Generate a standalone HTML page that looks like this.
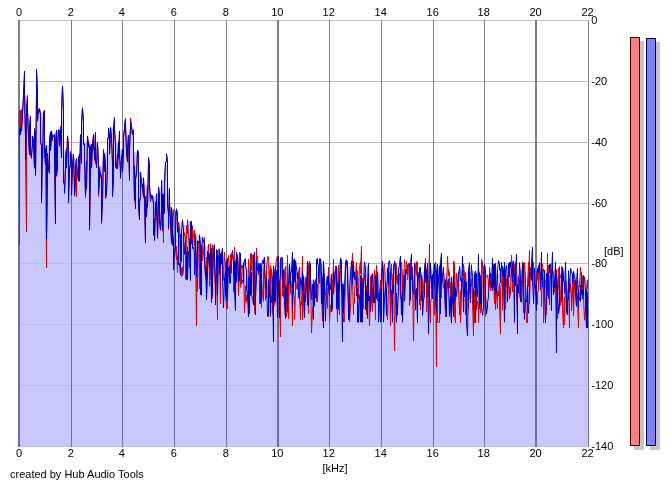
<!DOCTYPE html>
<html><head><meta charset="utf-8"><style>
html,body{margin:0;padding:0;background:#fff;width:670px;height:486px;overflow:hidden;position:relative}
</style></head><body>
<svg width="670" height="486" viewBox="0 0 670 486" style="position:absolute;left:0;top:0">
<defs><clipPath id="fc"><polygon points="18.0,447.0 18.0,110.0 19.5,110.0 19.5,110.0 20.5,110.0 20.5,110.0 21.5,109.0 21.5,109.0 22.5,109.0 22.5,109.0 23.5,95.5 24.5,71.0 24.5,95.4 25.5,95.4 25.5,95.4 26.5,95.4 26.5,95.4 27.5,95.4 27.5,110.5 28.5,115.9 29.5,115.9 29.5,115.9 30.5,115.9 30.5,135.9 31.5,135.9 31.5,135.9 32.5,135.9 32.5,135.9 33.5,135.9 34.5,135.9 34.5,128.2 35.5,128.2 35.5,128.2 36.5,95.8 36.5,68.9 37.5,93.9 37.5,108.0 38.5,108.0 39.5,108.0 39.5,108.0 40.5,113.3 40.5,113.3 41.5,113.3 41.5,113.3 42.5,113.3 42.5,113.3 43.5,113.3 44.5,110.0 44.5,145.3 45.5,145.3 45.5,145.3 46.5,145.3 46.5,145.3 47.5,145.3 47.5,145.3 48.5,145.3 49.5,145.3 49.5,138.9 50.5,131.8 50.5,131.8 51.5,131.4 51.5,130.8 52.5,134.4 52.5,134.4 53.5,134.4 54.5,134.4 54.5,134.4 55.5,134.4 55.5,134.4 56.5,130.2 56.5,130.2 57.5,130.2 57.5,130.2 58.5,129.6 59.5,129.6 59.5,129.6 60.5,129.6 60.5,126.2 61.5,126.2 61.5,108.7 62.5,86.0 63.5,110.5 63.5,149.4 64.5,149.4 64.5,149.4 65.5,149.4 65.5,149.4 66.5,149.4 66.5,149.4 67.5,135.7 68.5,146.7 68.5,151.4 69.5,151.4 69.5,151.4 70.5,151.4 70.5,151.4 71.5,154.2 71.5,154.2 72.5,154.2 73.5,154.2 73.5,155.0 74.5,158.6 74.5,158.6 75.5,158.6 75.5,158.6 76.5,158.6 76.5,158.6 77.5,158.6 78.5,158.6 78.5,156.8 79.5,154.0 79.5,154.0 80.5,134.9 80.5,134.7 81.5,134.7 81.5,122.4 82.5,107.6 83.5,121.0 83.5,143.5 84.5,143.5 84.5,143.5 85.5,143.5 85.5,143.5 86.5,143.5 86.5,143.5 87.5,135.9 88.5,141.0 88.5,141.0 89.5,144.2 89.5,144.2 90.5,144.2 90.5,144.2 91.5,144.2 91.5,144.2 92.5,144.2 93.5,134.5 93.5,134.5 94.5,134.5 94.5,134.5 95.5,132.3 95.5,142.4 96.5,142.4 96.5,142.4 97.5,142.4 98.5,164.3 98.5,166.6 99.5,166.6 99.5,166.6 100.5,166.6 100.5,166.6 101.5,166.6 101.5,166.6 102.5,166.6 103.5,148.9 103.5,151.5 104.5,151.5 104.5,151.5 105.5,151.5 105.5,151.5 106.5,151.5 107.5,151.5 107.5,138.9 108.5,136.2 108.5,128.0 109.5,128.0 109.5,128.0 110.5,128.0 110.5,127.4 111.5,127.4 112.5,127.4 112.5,127.4 113.5,127.4 113.5,127.4 114.5,117.0 114.5,128.3 115.5,142.3 115.5,142.3 116.5,142.3 117.5,142.3 117.5,142.3 118.5,142.3 118.5,142.3 119.5,130.9 119.5,149.2 120.5,149.2 120.5,149.2 121.5,149.2 122.5,149.2 122.5,149.2 123.5,149.2 123.5,137.6 124.5,128.1 124.5,125.5 125.5,118.6 125.5,124.5 126.5,135.1 127.5,135.1 127.5,135.1 128.5,135.1 128.5,135.1 129.5,135.1 129.5,135.1 130.5,126.1 130.5,117.8 131.5,125.8 132.5,129.7 132.5,129.7 133.5,129.7 133.5,151.7 134.5,151.7 134.5,151.7 135.5,151.7 135.5,151.7 136.5,151.7 137.5,151.7 137.5,150.0 138.5,152.5 138.5,172.0 139.5,172.0 139.5,172.0 140.5,172.0 140.5,172.0 141.5,177.7 142.5,177.7 142.5,177.7 143.5,177.7 143.5,177.7 144.5,184.8 144.5,184.8 145.5,184.8 145.5,184.8 146.5,184.8 147.5,184.8 147.5,184.8 148.5,163.2 148.5,157.0 149.5,164.4 149.5,184.1 150.5,194.6 151.5,194.6 151.5,194.6 152.5,195.7 152.5,195.7 153.5,195.7 153.5,195.7 154.5,195.7 154.5,195.7 155.5,195.7 156.5,195.7 156.5,193.7 157.5,193.7 157.5,193.7 158.5,193.7 158.5,187.1 159.5,187.1 159.5,187.1 160.5,187.1 161.5,187.1 161.5,180.5 162.5,180.5 162.5,180.5 163.5,180.5 163.5,180.5 164.5,180.5 164.5,180.5 165.5,162.3 166.5,160.1 166.5,153.7 167.5,161.3 167.5,188.6 168.5,188.6 168.5,188.6 169.5,188.6 169.5,202.1 170.5,207.5 171.5,207.5 171.5,207.5 172.5,209.6 172.5,209.6 172.5,209.6 173.5,209.6 173.5,209.6 174.5,209.6 175.5,209.6 175.5,209.6 176.5,209.6 176.5,208.8 177.5,213.0 177.5,222.2 178.5,222.2 178.5,222.2 179.5,222.2 180.5,222.2 180.5,222.2 181.5,222.2 181.5,222.2 182.5,219.7 182.5,220.9 183.5,225.0 183.5,225.0 184.5,225.0 185.5,225.0 185.5,225.0 186.5,225.0 186.5,225.0 187.5,225.0 187.5,219.7 188.5,220.9 189.5,220.9 189.5,220.9 190.5,220.9 190.5,220.9 191.5,220.9 191.5,225.6 192.5,225.6 192.5,230.0 193.5,230.0 194.5,230.0 194.5,233.9 195.5,233.9 195.5,233.9 196.5,234.9 196.5,234.9 197.5,234.9 197.5,234.9 198.5,234.9 199.5,234.9 199.5,234.9 200.5,237.4 200.5,237.4 201.5,237.4 201.5,237.4 202.5,237.4 202.5,237.4 203.5,237.6 204.5,237.6 204.5,246.2 205.5,246.2 205.5,246.2 206.5,246.2 206.5,246.2 207.5,246.2 207.5,246.2 208.5,244.0 209.5,244.0 209.5,244.0 210.5,244.0 210.5,243.7 211.5,244.5 211.5,244.5 212.5,244.5 212.5,244.5 213.5,244.5 214.5,244.5 214.5,249.6 215.5,258.9 215.5,258.4 216.5,256.2 216.5,253.7 217.5,254.9 217.5,259.0 218.5,260.2 219.5,261.6 219.5,260.9 220.5,261.6 220.5,259.9 221.5,258.9 221.5,259.7 222.5,262.2 222.5,260.5 223.5,259.6 224.5,262.7 224.5,258.3 225.5,258.6 225.5,258.3 226.5,259.0 226.5,258.3 227.5,258.8 227.5,259.8 228.5,261.5 229.5,262.0 229.5,264.0 230.5,264.8 230.5,264.0 231.5,264.0 231.5,264.2 232.5,265.0 233.5,267.4 233.5,269.8 234.5,268.2 234.5,267.7 235.5,266.6 235.5,265.6 236.5,264.5 236.5,263.8 237.5,263.9 238.5,260.4 238.5,257.7 239.5,254.6 239.5,255.9 240.5,258.0 240.5,259.9 241.5,259.9 241.5,261.6 242.5,264.3 243.5,259.7 243.5,262.6 244.5,262.2 244.5,260.5 245.5,259.0 245.5,262.8 246.5,264.6 246.5,267.2 247.5,267.9 248.5,267.5 248.5,264.8 249.5,261.6 249.5,261.5 250.5,262.0 250.5,264.1 251.5,263.1 251.5,261.2 252.5,258.5 253.5,258.2 253.5,253.8 254.5,258.1 254.5,257.3 255.5,258.7 255.5,261.5 256.5,266.8 256.5,267.2 257.5,265.2 258.5,265.1 258.5,263.1 259.5,263.1 259.5,263.1 260.5,263.1 260.5,263.1 261.5,263.1 261.5,263.1 262.5,260.3 263.5,260.3 263.5,260.3 264.5,257.3 264.5,258.6 265.5,260.4 265.5,260.6 266.5,262.9 266.5,262.9 267.5,261.7 268.5,259.7 268.5,262.5 269.5,264.9 269.5,264.9 270.5,264.9 270.5,265.9 271.5,265.9 272.5,266.7 272.5,272.3 273.5,269.7 273.5,270.6 274.5,268.9 274.5,265.9 275.5,265.8 275.5,265.3 276.5,264.3 277.5,261.8 277.5,262.5 278.5,260.1 278.5,260.7 279.5,261.9 279.5,265.6 280.5,264.8 280.5,266.4 281.5,263.6 282.5,266.5 282.5,266.4 283.5,268.3 283.5,267.1 284.5,268.4 284.5,268.1 285.5,266.6 285.5,266.2 286.5,266.2 287.5,266.6 287.5,264.3 288.5,264.5 288.5,266.2 289.5,268.6 289.5,265.7 290.5,267.8 290.5,267.0 291.5,264.5 292.5,260.7 292.5,261.4 293.5,262.1 293.5,261.3 294.5,264.3 294.5,266.1 295.5,271.6 295.5,269.7 296.5,273.5 297.5,273.2 297.5,270.4 298.5,267.1 298.5,267.1 299.5,267.1 299.5,267.1 300.5,267.1 300.5,267.1 301.5,267.1 302.5,266.7 302.5,272.0 303.5,276.5 303.5,276.5 304.5,276.5 304.5,276.5 305.5,276.5 305.5,276.5 306.5,276.5 307.5,269.7 307.5,270.2 308.5,272.6 308.5,270.5 309.5,263.9 309.5,263.6 310.5,266.5 310.5,279.5 311.5,279.8 312.5,279.8 312.5,279.8 313.5,279.8 313.5,279.8 314.5,279.8 314.5,279.8 315.5,279.1 316.5,279.1 316.5,273.8 317.5,271.1 317.5,273.1 318.5,272.2 318.5,271.7 319.5,271.1 319.5,269.8 320.5,269.4 321.5,263.7 321.5,262.2 322.5,261.3 322.5,263.5 323.5,261.6 323.5,265.3 324.5,276.4 324.5,276.4 325.5,276.4 326.5,276.4 326.5,276.4 327.5,276.4 327.5,276.4 328.5,270.6 328.5,268.7 329.5,273.7 329.5,273.7 330.5,273.7 331.5,273.7 331.5,273.7 332.5,273.7 332.5,273.7 333.5,271.3 333.5,273.6 334.5,274.3 334.5,274.1 335.5,271.5 336.5,273.0 336.5,271.0 337.5,268.7 337.5,268.3 338.5,270.3 338.5,269.4 339.5,272.3 339.5,273.4 340.5,270.1 341.5,270.7 341.5,281.3 342.5,281.3 342.5,281.3 343.5,281.3 343.5,281.3 344.5,281.3 344.5,281.3 345.5,265.0 346.5,265.8 346.5,264.2 347.5,264.6 347.5,265.6 348.5,265.9 348.5,266.3 349.5,267.5 349.5,266.4 350.5,267.2 351.5,266.3 351.5,266.9 352.5,264.8 352.5,265.7 353.5,265.5 353.5,265.6 354.5,264.0 354.5,266.6 355.5,266.2 356.5,269.4 356.5,270.8 357.5,272.2 357.5,274.7 358.5,279.3 358.5,277.9 359.5,278.1 360.5,276.8 360.5,273.9 361.5,267.4 361.5,265.8 362.5,265.5 362.5,264.5 363.5,261.8 363.5,266.9 364.5,265.7 365.5,265.3 365.5,265.6 366.5,266.4 366.5,263.2 367.5,266.3 367.5,266.8 368.5,270.5 368.5,273.5 369.5,273.5 370.5,273.5 370.5,273.5 371.5,273.5 371.5,273.5 372.5,273.5 372.5,273.5 373.5,273.5 373.5,273.5 374.5,270.2 375.5,270.2 375.5,270.2 376.5,271.8 376.5,270.5 377.5,272.2 377.5,272.5 378.5,272.5 378.5,272.5 379.5,272.5 380.5,272.5 380.5,272.5 381.5,272.8 381.5,272.9 382.5,273.9 382.5,272.7 383.5,271.1 383.5,274.1 384.5,271.4 385.5,272.0 385.5,269.8 386.5,269.1 386.5,267.8 387.5,268.1 387.5,267.8 388.5,267.8 388.5,267.0 389.5,266.3 390.5,268.9 390.5,273.3 391.5,273.9 391.5,273.7 392.5,275.8 392.5,274.4 393.5,271.1 393.5,273.0 394.5,271.6 395.5,270.6 395.5,271.5 396.5,272.2 396.5,269.5 397.5,269.4 397.5,270.1 398.5,266.9 398.5,265.4 399.5,267.2 400.5,266.7 400.5,269.5 401.5,269.7 401.5,272.3 402.5,269.8 402.5,270.7 403.5,268.7 404.5,270.7 404.5,270.6 405.5,272.0 405.5,272.9 406.5,271.3 406.5,268.1 407.5,269.0 407.5,268.8 408.5,268.1 409.5,269.8 409.5,273.1 410.5,275.5 410.5,276.5 411.5,279.2 411.5,277.6 412.5,276.6 412.5,274.2 413.5,275.4 414.5,272.3 414.5,272.4 415.5,272.6 415.5,273.6 416.5,271.3 416.5,272.5 417.5,273.6 417.5,273.6 418.5,270.1 419.5,272.7 419.5,270.8 420.5,273.0 420.5,271.9 421.5,271.9 421.5,271.9 422.5,271.9 422.5,271.9 423.5,271.9 424.5,271.9 424.5,271.3 425.5,268.9 425.5,267.5 426.5,267.0 426.5,269.1 427.5,269.7 427.5,270.4 428.5,270.5 429.5,271.3 429.5,268.9 430.5,268.7 430.5,268.8 431.5,268.6 431.5,270.0 432.5,270.2 432.5,269.8 433.5,270.5 434.5,271.0 434.5,268.6 435.5,268.5 435.5,270.4 436.5,269.0 436.5,267.9 437.5,269.1 437.5,268.9 438.5,269.2 439.5,270.1 439.5,273.2 440.5,275.2 440.5,277.0 441.5,275.8 441.5,276.8 442.5,275.8 443.5,276.5 443.5,272.7 444.5,272.7 444.5,273.0 445.5,272.7 445.5,272.7 446.5,273.7 446.5,272.7 447.5,269.0 448.5,269.3 448.5,269.3 449.5,272.9 449.5,276.8 450.5,276.8 450.5,276.8 451.5,276.8 451.5,276.8 452.5,276.8 453.5,276.8 453.5,270.1 454.5,269.1 454.5,272.4 455.5,272.4 455.5,272.4 456.5,272.4 456.5,272.4 457.5,273.4 458.5,272.4 458.5,272.4 459.5,267.2 459.5,266.3 460.5,266.3 460.5,266.3 461.5,269.8 461.5,269.8 462.5,269.8 463.5,268.0 463.5,265.3 464.5,272.4 464.5,272.4 465.5,272.4 465.5,272.4 466.5,272.4 466.5,272.4 467.5,272.4 468.5,272.4 468.5,272.0 469.5,268.9 469.5,270.9 470.5,272.2 470.5,272.6 471.5,271.9 471.5,270.8 472.5,271.1 473.5,271.1 473.5,271.1 474.5,271.1 474.5,271.1 475.5,271.1 475.5,271.1 476.5,271.3 476.5,272.2 477.5,273.9 478.5,270.6 478.5,270.2 479.5,270.5 479.5,269.6 480.5,270.3 480.5,272.3 481.5,272.6 481.5,271.6 482.5,270.5 483.5,268.3 483.5,268.0 484.5,266.8 484.5,267.7 485.5,270.1 485.5,274.8 486.5,274.8 487.5,274.8 487.5,274.8 488.5,274.8 488.5,274.8 489.5,274.8 489.5,273.0 490.5,272.1 490.5,270.3 491.5,267.5 492.5,271.4 492.5,275.1 493.5,273.6 493.5,275.9 494.5,279.2 494.5,275.2 495.5,273.1 495.5,275.4 496.5,275.3 497.5,274.6 497.5,271.5 498.5,272.9 498.5,274.6 499.5,271.7 499.5,269.9 500.5,271.3 500.5,269.8 501.5,266.3 502.5,271.3 502.5,271.5 503.5,275.4 503.5,274.7 504.5,276.0 504.5,272.6 505.5,272.5 505.5,270.4 506.5,274.1 507.5,273.8 507.5,274.9 508.5,275.8 508.5,276.1 509.5,274.7 509.5,275.4 510.5,274.2 510.5,273.1 511.5,271.6 512.5,270.3 512.5,269.8 513.5,268.8 513.5,270.9 514.5,272.1 514.5,274.9 515.5,274.4 515.5,277.5 516.5,277.1 517.5,277.0 517.5,274.5 518.5,275.0 518.5,273.4 519.5,271.7 519.5,270.6 520.5,268.0 520.5,269.1 521.5,270.8 522.5,271.1 522.5,269.9 523.5,274.1 523.5,274.0 524.5,272.2 524.5,271.9 525.5,276.0 525.5,276.3 526.5,276.2 527.5,279.4 527.5,280.4 528.5,278.6 528.5,280.4 529.5,280.2 529.5,281.1 530.5,277.0 531.5,274.3 531.5,272.0 532.5,271.4 532.5,265.5 533.5,268.2 533.5,269.2 534.5,269.3 534.5,268.2 535.5,268.2 536.5,268.2 536.5,268.2 537.5,268.2 537.5,269.1 538.5,269.1 538.5,271.5 539.5,276.4 539.5,275.6 540.5,270.0 541.5,270.1 541.5,265.6 542.5,264.5 542.5,265.0 543.5,269.2 543.5,269.2 544.5,270.0 544.5,269.3 545.5,270.4 546.5,269.2 546.5,274.1 547.5,275.8 547.5,277.4 548.5,279.2 548.5,279.6 549.5,277.3 549.5,275.0 550.5,275.3 551.5,271.6 551.5,271.9 552.5,269.0 552.5,270.4 553.5,269.9 553.5,273.7 554.5,275.2 554.5,271.8 555.5,270.3 556.5,270.4 556.5,267.9 557.5,268.7 557.5,270.8 558.5,272.4 558.5,271.4 559.5,271.1 559.5,269.6 560.5,273.7 561.5,275.1 561.5,278.9 562.5,277.5 562.5,277.1 563.5,275.3 563.5,272.7 564.5,269.3 564.5,271.3 565.5,275.8 566.5,276.3 566.5,279.7 567.5,278.6 567.5,281.0 568.5,281.1 568.5,280.8 569.5,277.6 569.5,280.9 570.5,275.1 571.5,272.1 571.5,271.3 572.5,272.4 572.5,271.4 573.5,272.9 573.5,271.3 574.5,274.3 575.5,272.0 575.5,271.3 576.5,274.5 576.5,275.7 577.5,275.3 577.5,277.3 578.5,277.8 578.5,277.9 579.5,282.9 580.5,280.1 580.5,276.9 581.5,278.8 581.5,278.2 582.5,275.0 582.5,275.0 583.5,275.0 583.5,276.4 584.5,276.8 585.5,279.7 585.5,279.7 586.5,279.7 586.5,279.7 587.5,279.7 587.5,279.7 589.0,279.7 589.0,447.0"/></clipPath></defs>
<g shape-rendering="crispEdges"><rect x="18" y="20" width="571" height="1" fill="#c0c0c0"/><rect x="18" y="81" width="571" height="1" fill="#c0c0c0"/><rect x="18" y="142" width="571" height="1" fill="#c0c0c0"/><rect x="18" y="203" width="571" height="1" fill="#c0c0c0"/><rect x="18" y="263" width="571" height="1" fill="#c0c0c0"/><rect x="18" y="324" width="571" height="1" fill="#c0c0c0"/><rect x="18" y="385" width="571" height="1" fill="#c0c0c0"/><rect x="18" y="446" width="571" height="1" fill="#c0c0c0"/><rect x="18" y="20" width="2" height="427" fill="#808080"/><rect x="71" y="20" width="1" height="427" fill="#808080"/><rect x="122" y="20" width="1" height="427" fill="#808080"/><rect x="174" y="20" width="1" height="427" fill="#808080"/><rect x="226" y="20" width="1" height="427" fill="#808080"/><rect x="277" y="20" width="2" height="427" fill="#808080"/><rect x="329" y="20" width="1" height="427" fill="#808080"/><rect x="381" y="20" width="1" height="427" fill="#808080"/><rect x="433" y="20" width="1" height="427" fill="#808080"/><rect x="484" y="20" width="1" height="427" fill="#808080"/><rect x="535" y="20" width="2" height="427" fill="#808080"/><rect x="588" y="20" width="1" height="427" fill="#808080"/></g>
<polygon points="18.0,447.0 18.0,110.0 19.5,110.0 19.5,110.0 20.5,110.0 20.5,110.0 21.5,109.0 21.5,109.0 22.5,109.0 22.5,109.0 23.5,95.5 24.5,71.0 24.5,95.4 25.5,95.4 25.5,95.4 26.5,95.4 26.5,95.4 27.5,95.4 27.5,110.5 28.5,115.9 29.5,115.9 29.5,115.9 30.5,115.9 30.5,135.9 31.5,135.9 31.5,135.9 32.5,135.9 32.5,135.9 33.5,135.9 34.5,135.9 34.5,128.2 35.5,128.2 35.5,128.2 36.5,95.8 36.5,68.9 37.5,93.9 37.5,108.0 38.5,108.0 39.5,108.0 39.5,108.0 40.5,113.3 40.5,113.3 41.5,113.3 41.5,113.3 42.5,113.3 42.5,113.3 43.5,113.3 44.5,110.0 44.5,145.3 45.5,145.3 45.5,145.3 46.5,145.3 46.5,145.3 47.5,145.3 47.5,145.3 48.5,145.3 49.5,145.3 49.5,138.9 50.5,131.8 50.5,131.8 51.5,131.4 51.5,130.8 52.5,134.4 52.5,134.4 53.5,134.4 54.5,134.4 54.5,134.4 55.5,134.4 55.5,134.4 56.5,130.2 56.5,130.2 57.5,130.2 57.5,130.2 58.5,129.6 59.5,129.6 59.5,129.6 60.5,129.6 60.5,126.2 61.5,126.2 61.5,108.7 62.5,86.0 63.5,110.5 63.5,149.4 64.5,149.4 64.5,149.4 65.5,149.4 65.5,149.4 66.5,149.4 66.5,149.4 67.5,135.7 68.5,146.7 68.5,151.4 69.5,151.4 69.5,151.4 70.5,151.4 70.5,151.4 71.5,154.2 71.5,154.2 72.5,154.2 73.5,154.2 73.5,155.0 74.5,158.6 74.5,158.6 75.5,158.6 75.5,158.6 76.5,158.6 76.5,158.6 77.5,158.6 78.5,158.6 78.5,156.8 79.5,154.0 79.5,154.0 80.5,134.9 80.5,134.7 81.5,134.7 81.5,122.4 82.5,107.6 83.5,121.0 83.5,143.5 84.5,143.5 84.5,143.5 85.5,143.5 85.5,143.5 86.5,143.5 86.5,143.5 87.5,135.9 88.5,141.0 88.5,141.0 89.5,144.2 89.5,144.2 90.5,144.2 90.5,144.2 91.5,144.2 91.5,144.2 92.5,144.2 93.5,134.5 93.5,134.5 94.5,134.5 94.5,134.5 95.5,132.3 95.5,142.4 96.5,142.4 96.5,142.4 97.5,142.4 98.5,164.3 98.5,166.6 99.5,166.6 99.5,166.6 100.5,166.6 100.5,166.6 101.5,166.6 101.5,166.6 102.5,166.6 103.5,148.9 103.5,151.5 104.5,151.5 104.5,151.5 105.5,151.5 105.5,151.5 106.5,151.5 107.5,151.5 107.5,138.9 108.5,136.2 108.5,128.0 109.5,128.0 109.5,128.0 110.5,128.0 110.5,127.4 111.5,127.4 112.5,127.4 112.5,127.4 113.5,127.4 113.5,127.4 114.5,117.0 114.5,128.3 115.5,142.3 115.5,142.3 116.5,142.3 117.5,142.3 117.5,142.3 118.5,142.3 118.5,142.3 119.5,130.9 119.5,149.2 120.5,149.2 120.5,149.2 121.5,149.2 122.5,149.2 122.5,149.2 123.5,149.2 123.5,137.6 124.5,128.1 124.5,125.5 125.5,118.6 125.5,124.5 126.5,135.1 127.5,135.1 127.5,135.1 128.5,135.1 128.5,135.1 129.5,135.1 129.5,135.1 130.5,126.1 130.5,117.8 131.5,125.8 132.5,129.7 132.5,129.7 133.5,129.7 133.5,151.7 134.5,151.7 134.5,151.7 135.5,151.7 135.5,151.7 136.5,151.7 137.5,151.7 137.5,150.0 138.5,152.5 138.5,172.0 139.5,172.0 139.5,172.0 140.5,172.0 140.5,172.0 141.5,177.7 142.5,177.7 142.5,177.7 143.5,177.7 143.5,177.7 144.5,184.8 144.5,184.8 145.5,184.8 145.5,184.8 146.5,184.8 147.5,184.8 147.5,184.8 148.5,163.2 148.5,157.0 149.5,164.4 149.5,184.1 150.5,194.6 151.5,194.6 151.5,194.6 152.5,195.7 152.5,195.7 153.5,195.7 153.5,195.7 154.5,195.7 154.5,195.7 155.5,195.7 156.5,195.7 156.5,193.7 157.5,193.7 157.5,193.7 158.5,193.7 158.5,187.1 159.5,187.1 159.5,187.1 160.5,187.1 161.5,187.1 161.5,180.5 162.5,180.5 162.5,180.5 163.5,180.5 163.5,180.5 164.5,180.5 164.5,180.5 165.5,162.3 166.5,160.1 166.5,153.7 167.5,161.3 167.5,188.6 168.5,188.6 168.5,188.6 169.5,188.6 169.5,202.1 170.5,207.5 171.5,207.5 171.5,207.5 172.5,209.6 172.5,209.6 172.5,209.6 173.5,209.6 173.5,209.6 174.5,209.6 175.5,209.6 175.5,209.6 176.5,209.6 176.5,208.8 177.5,213.0 177.5,222.2 178.5,222.2 178.5,222.2 179.5,222.2 180.5,222.2 180.5,222.2 181.5,222.2 181.5,222.2 182.5,219.7 182.5,220.9 183.5,225.0 183.5,225.0 184.5,225.0 185.5,225.0 185.5,225.0 186.5,225.0 186.5,225.0 187.5,225.0 187.5,219.7 188.5,220.9 189.5,220.9 189.5,220.9 190.5,220.9 190.5,220.9 191.5,220.9 191.5,225.6 192.5,225.6 192.5,230.0 193.5,230.0 194.5,230.0 194.5,233.9 195.5,233.9 195.5,233.9 196.5,234.9 196.5,234.9 197.5,234.9 197.5,234.9 198.5,234.9 199.5,234.9 199.5,234.9 200.5,237.4 200.5,237.4 201.5,237.4 201.5,237.4 202.5,237.4 202.5,237.4 203.5,237.6 204.5,237.6 204.5,246.2 205.5,246.2 205.5,246.2 206.5,246.2 206.5,246.2 207.5,246.2 207.5,246.2 208.5,244.0 209.5,244.0 209.5,244.0 210.5,244.0 210.5,243.7 211.5,244.5 211.5,244.5 212.5,244.5 212.5,244.5 213.5,244.5 214.5,244.5 214.5,249.6 215.5,258.9 215.5,258.4 216.5,256.2 216.5,253.7 217.5,254.9 217.5,259.0 218.5,260.2 219.5,261.6 219.5,260.9 220.5,261.6 220.5,259.9 221.5,258.9 221.5,259.7 222.5,262.2 222.5,260.5 223.5,259.6 224.5,262.7 224.5,258.3 225.5,258.6 225.5,258.3 226.5,259.0 226.5,258.3 227.5,258.8 227.5,259.8 228.5,261.5 229.5,262.0 229.5,264.0 230.5,264.8 230.5,264.0 231.5,264.0 231.5,264.2 232.5,265.0 233.5,267.4 233.5,269.8 234.5,268.2 234.5,267.7 235.5,266.6 235.5,265.6 236.5,264.5 236.5,263.8 237.5,263.9 238.5,260.4 238.5,257.7 239.5,254.6 239.5,255.9 240.5,258.0 240.5,259.9 241.5,259.9 241.5,261.6 242.5,264.3 243.5,259.7 243.5,262.6 244.5,262.2 244.5,260.5 245.5,259.0 245.5,262.8 246.5,264.6 246.5,267.2 247.5,267.9 248.5,267.5 248.5,264.8 249.5,261.6 249.5,261.5 250.5,262.0 250.5,264.1 251.5,263.1 251.5,261.2 252.5,258.5 253.5,258.2 253.5,253.8 254.5,258.1 254.5,257.3 255.5,258.7 255.5,261.5 256.5,266.8 256.5,267.2 257.5,265.2 258.5,265.1 258.5,263.1 259.5,263.1 259.5,263.1 260.5,263.1 260.5,263.1 261.5,263.1 261.5,263.1 262.5,260.3 263.5,260.3 263.5,260.3 264.5,257.3 264.5,258.6 265.5,260.4 265.5,260.6 266.5,262.9 266.5,262.9 267.5,261.7 268.5,259.7 268.5,262.5 269.5,264.9 269.5,264.9 270.5,264.9 270.5,265.9 271.5,265.9 272.5,266.7 272.5,272.3 273.5,269.7 273.5,270.6 274.5,268.9 274.5,265.9 275.5,265.8 275.5,265.3 276.5,264.3 277.5,261.8 277.5,262.5 278.5,260.1 278.5,260.7 279.5,261.9 279.5,265.6 280.5,264.8 280.5,266.4 281.5,263.6 282.5,266.5 282.5,266.4 283.5,268.3 283.5,267.1 284.5,268.4 284.5,268.1 285.5,266.6 285.5,266.2 286.5,266.2 287.5,266.6 287.5,264.3 288.5,264.5 288.5,266.2 289.5,268.6 289.5,265.7 290.5,267.8 290.5,267.0 291.5,264.5 292.5,260.7 292.5,261.4 293.5,262.1 293.5,261.3 294.5,264.3 294.5,266.1 295.5,271.6 295.5,269.7 296.5,273.5 297.5,273.2 297.5,270.4 298.5,267.1 298.5,267.1 299.5,267.1 299.5,267.1 300.5,267.1 300.5,267.1 301.5,267.1 302.5,266.7 302.5,272.0 303.5,276.5 303.5,276.5 304.5,276.5 304.5,276.5 305.5,276.5 305.5,276.5 306.5,276.5 307.5,269.7 307.5,270.2 308.5,272.6 308.5,270.5 309.5,263.9 309.5,263.6 310.5,266.5 310.5,279.5 311.5,279.8 312.5,279.8 312.5,279.8 313.5,279.8 313.5,279.8 314.5,279.8 314.5,279.8 315.5,279.1 316.5,279.1 316.5,273.8 317.5,271.1 317.5,273.1 318.5,272.2 318.5,271.7 319.5,271.1 319.5,269.8 320.5,269.4 321.5,263.7 321.5,262.2 322.5,261.3 322.5,263.5 323.5,261.6 323.5,265.3 324.5,276.4 324.5,276.4 325.5,276.4 326.5,276.4 326.5,276.4 327.5,276.4 327.5,276.4 328.5,270.6 328.5,268.7 329.5,273.7 329.5,273.7 330.5,273.7 331.5,273.7 331.5,273.7 332.5,273.7 332.5,273.7 333.5,271.3 333.5,273.6 334.5,274.3 334.5,274.1 335.5,271.5 336.5,273.0 336.5,271.0 337.5,268.7 337.5,268.3 338.5,270.3 338.5,269.4 339.5,272.3 339.5,273.4 340.5,270.1 341.5,270.7 341.5,281.3 342.5,281.3 342.5,281.3 343.5,281.3 343.5,281.3 344.5,281.3 344.5,281.3 345.5,265.0 346.5,265.8 346.5,264.2 347.5,264.6 347.5,265.6 348.5,265.9 348.5,266.3 349.5,267.5 349.5,266.4 350.5,267.2 351.5,266.3 351.5,266.9 352.5,264.8 352.5,265.7 353.5,265.5 353.5,265.6 354.5,264.0 354.5,266.6 355.5,266.2 356.5,269.4 356.5,270.8 357.5,272.2 357.5,274.7 358.5,279.3 358.5,277.9 359.5,278.1 360.5,276.8 360.5,273.9 361.5,267.4 361.5,265.8 362.5,265.5 362.5,264.5 363.5,261.8 363.5,266.9 364.5,265.7 365.5,265.3 365.5,265.6 366.5,266.4 366.5,263.2 367.5,266.3 367.5,266.8 368.5,270.5 368.5,273.5 369.5,273.5 370.5,273.5 370.5,273.5 371.5,273.5 371.5,273.5 372.5,273.5 372.5,273.5 373.5,273.5 373.5,273.5 374.5,270.2 375.5,270.2 375.5,270.2 376.5,271.8 376.5,270.5 377.5,272.2 377.5,272.5 378.5,272.5 378.5,272.5 379.5,272.5 380.5,272.5 380.5,272.5 381.5,272.8 381.5,272.9 382.5,273.9 382.5,272.7 383.5,271.1 383.5,274.1 384.5,271.4 385.5,272.0 385.5,269.8 386.5,269.1 386.5,267.8 387.5,268.1 387.5,267.8 388.5,267.8 388.5,267.0 389.5,266.3 390.5,268.9 390.5,273.3 391.5,273.9 391.5,273.7 392.5,275.8 392.5,274.4 393.5,271.1 393.5,273.0 394.5,271.6 395.5,270.6 395.5,271.5 396.5,272.2 396.5,269.5 397.5,269.4 397.5,270.1 398.5,266.9 398.5,265.4 399.5,267.2 400.5,266.7 400.5,269.5 401.5,269.7 401.5,272.3 402.5,269.8 402.5,270.7 403.5,268.7 404.5,270.7 404.5,270.6 405.5,272.0 405.5,272.9 406.5,271.3 406.5,268.1 407.5,269.0 407.5,268.8 408.5,268.1 409.5,269.8 409.5,273.1 410.5,275.5 410.5,276.5 411.5,279.2 411.5,277.6 412.5,276.6 412.5,274.2 413.5,275.4 414.5,272.3 414.5,272.4 415.5,272.6 415.5,273.6 416.5,271.3 416.5,272.5 417.5,273.6 417.5,273.6 418.5,270.1 419.5,272.7 419.5,270.8 420.5,273.0 420.5,271.9 421.5,271.9 421.5,271.9 422.5,271.9 422.5,271.9 423.5,271.9 424.5,271.9 424.5,271.3 425.5,268.9 425.5,267.5 426.5,267.0 426.5,269.1 427.5,269.7 427.5,270.4 428.5,270.5 429.5,271.3 429.5,268.9 430.5,268.7 430.5,268.8 431.5,268.6 431.5,270.0 432.5,270.2 432.5,269.8 433.5,270.5 434.5,271.0 434.5,268.6 435.5,268.5 435.5,270.4 436.5,269.0 436.5,267.9 437.5,269.1 437.5,268.9 438.5,269.2 439.5,270.1 439.5,273.2 440.5,275.2 440.5,277.0 441.5,275.8 441.5,276.8 442.5,275.8 443.5,276.5 443.5,272.7 444.5,272.7 444.5,273.0 445.5,272.7 445.5,272.7 446.5,273.7 446.5,272.7 447.5,269.0 448.5,269.3 448.5,269.3 449.5,272.9 449.5,276.8 450.5,276.8 450.5,276.8 451.5,276.8 451.5,276.8 452.5,276.8 453.5,276.8 453.5,270.1 454.5,269.1 454.5,272.4 455.5,272.4 455.5,272.4 456.5,272.4 456.5,272.4 457.5,273.4 458.5,272.4 458.5,272.4 459.5,267.2 459.5,266.3 460.5,266.3 460.5,266.3 461.5,269.8 461.5,269.8 462.5,269.8 463.5,268.0 463.5,265.3 464.5,272.4 464.5,272.4 465.5,272.4 465.5,272.4 466.5,272.4 466.5,272.4 467.5,272.4 468.5,272.4 468.5,272.0 469.5,268.9 469.5,270.9 470.5,272.2 470.5,272.6 471.5,271.9 471.5,270.8 472.5,271.1 473.5,271.1 473.5,271.1 474.5,271.1 474.5,271.1 475.5,271.1 475.5,271.1 476.5,271.3 476.5,272.2 477.5,273.9 478.5,270.6 478.5,270.2 479.5,270.5 479.5,269.6 480.5,270.3 480.5,272.3 481.5,272.6 481.5,271.6 482.5,270.5 483.5,268.3 483.5,268.0 484.5,266.8 484.5,267.7 485.5,270.1 485.5,274.8 486.5,274.8 487.5,274.8 487.5,274.8 488.5,274.8 488.5,274.8 489.5,274.8 489.5,273.0 490.5,272.1 490.5,270.3 491.5,267.5 492.5,271.4 492.5,275.1 493.5,273.6 493.5,275.9 494.5,279.2 494.5,275.2 495.5,273.1 495.5,275.4 496.5,275.3 497.5,274.6 497.5,271.5 498.5,272.9 498.5,274.6 499.5,271.7 499.5,269.9 500.5,271.3 500.5,269.8 501.5,266.3 502.5,271.3 502.5,271.5 503.5,275.4 503.5,274.7 504.5,276.0 504.5,272.6 505.5,272.5 505.5,270.4 506.5,274.1 507.5,273.8 507.5,274.9 508.5,275.8 508.5,276.1 509.5,274.7 509.5,275.4 510.5,274.2 510.5,273.1 511.5,271.6 512.5,270.3 512.5,269.8 513.5,268.8 513.5,270.9 514.5,272.1 514.5,274.9 515.5,274.4 515.5,277.5 516.5,277.1 517.5,277.0 517.5,274.5 518.5,275.0 518.5,273.4 519.5,271.7 519.5,270.6 520.5,268.0 520.5,269.1 521.5,270.8 522.5,271.1 522.5,269.9 523.5,274.1 523.5,274.0 524.5,272.2 524.5,271.9 525.5,276.0 525.5,276.3 526.5,276.2 527.5,279.4 527.5,280.4 528.5,278.6 528.5,280.4 529.5,280.2 529.5,281.1 530.5,277.0 531.5,274.3 531.5,272.0 532.5,271.4 532.5,265.5 533.5,268.2 533.5,269.2 534.5,269.3 534.5,268.2 535.5,268.2 536.5,268.2 536.5,268.2 537.5,268.2 537.5,269.1 538.5,269.1 538.5,271.5 539.5,276.4 539.5,275.6 540.5,270.0 541.5,270.1 541.5,265.6 542.5,264.5 542.5,265.0 543.5,269.2 543.5,269.2 544.5,270.0 544.5,269.3 545.5,270.4 546.5,269.2 546.5,274.1 547.5,275.8 547.5,277.4 548.5,279.2 548.5,279.6 549.5,277.3 549.5,275.0 550.5,275.3 551.5,271.6 551.5,271.9 552.5,269.0 552.5,270.4 553.5,269.9 553.5,273.7 554.5,275.2 554.5,271.8 555.5,270.3 556.5,270.4 556.5,267.9 557.5,268.7 557.5,270.8 558.5,272.4 558.5,271.4 559.5,271.1 559.5,269.6 560.5,273.7 561.5,275.1 561.5,278.9 562.5,277.5 562.5,277.1 563.5,275.3 563.5,272.7 564.5,269.3 564.5,271.3 565.5,275.8 566.5,276.3 566.5,279.7 567.5,278.6 567.5,281.0 568.5,281.1 568.5,280.8 569.5,277.6 569.5,280.9 570.5,275.1 571.5,272.1 571.5,271.3 572.5,272.4 572.5,271.4 573.5,272.9 573.5,271.3 574.5,274.3 575.5,272.0 575.5,271.3 576.5,274.5 576.5,275.7 577.5,275.3 577.5,277.3 578.5,277.8 578.5,277.9 579.5,282.9 580.5,280.1 580.5,276.9 581.5,278.8 581.5,278.2 582.5,275.0 582.5,275.0 583.5,275.0 583.5,276.4 584.5,276.8 585.5,279.7 585.5,279.7 586.5,279.7 586.5,279.7 587.5,279.7 587.5,279.7 589.0,279.7 589.0,447.0" fill="#c8c8ff"/>
<g shape-rendering="crispEdges" clip-path="url(#fc)"><rect x="18" y="81" width="571" height="1" fill="#bcbcee"/><rect x="18" y="142" width="571" height="1" fill="#bcbcee"/><rect x="18" y="203" width="571" height="1" fill="#bcbcee"/><rect x="18" y="263" width="571" height="1" fill="#bcbcee"/><rect x="18" y="324" width="571" height="1" fill="#bcbcee"/><rect x="18" y="385" width="571" height="1" fill="#bcbcee"/><rect x="18" y="446" width="571" height="1" fill="#bcbcee"/><rect x="18" y="20" width="2" height="427" fill="#6c6ca4"/><rect x="71" y="20" width="1" height="427" fill="#6c6ca4"/><rect x="122" y="20" width="1" height="427" fill="#6c6ca4"/><rect x="174" y="20" width="1" height="427" fill="#6c6ca4"/><rect x="226" y="20" width="1" height="427" fill="#6c6ca4"/><rect x="277" y="20" width="2" height="427" fill="#6c6ca4"/><rect x="329" y="20" width="1" height="427" fill="#6c6ca4"/><rect x="381" y="20" width="1" height="427" fill="#6c6ca4"/><rect x="433" y="20" width="1" height="427" fill="#6c6ca4"/><rect x="484" y="20" width="1" height="427" fill="#6c6ca4"/><rect x="535" y="20" width="2" height="427" fill="#6c6ca4"/><rect x="588" y="20" width="1" height="427" fill="#6c6ca4"/></g>
<polyline points="19.5,245.0 19.5,112.0 20.5,110.0 20.5,130.0 21.5,109.0 21.5,125.0 22.5,117.7 22.5,112.6 23.5,96.6 24.5,73.5 24.5,95.9 25.5,136.1 25.5,158.2 26.5,232.0 26.5,110.0 27.5,95.4 27.5,110.5 28.5,136.2 29.5,153.8 29.5,128.7 30.5,115.9 30.5,153.4 31.5,158.1 31.5,154.7 32.5,144.5 32.5,137.2 33.5,138.9 34.5,167.9 34.5,128.2 35.5,133.4 35.5,173.4 36.5,95.8 36.5,68.9 37.5,93.9 37.5,119.5 38.5,109.0 39.5,110.1 39.5,108.0 40.5,114.7 40.5,140.9 41.5,146.4 41.5,203.1 42.5,143.9 42.5,161.0 43.5,113.3 44.5,110.0 44.5,154.1 45.5,162.1 45.5,149.9 46.5,268.0 46.5,240.4 47.5,173.6 47.5,154.5 48.5,168.8 49.5,172.9 49.5,138.9 50.5,134.0 50.5,150.9 51.5,135.1 51.5,131.7 52.5,141.1 52.5,136.6 53.5,135.9 54.5,134.4 54.5,156.0 55.5,223.0 55.5,143.9 56.5,130.2 56.5,176.4 57.5,166.6 57.5,147.8 58.5,129.9 59.5,130.8 59.5,144.9 60.5,139.0 60.5,126.2 61.5,156.1 61.5,108.7 62.5,87.5 63.5,110.5 63.5,181.1 64.5,183.7 64.5,193.6 65.5,166.6 65.5,157.0 66.5,150.3 66.5,166.5 67.5,135.7 68.5,146.7 68.5,202.4 69.5,166.0 69.5,169.4 70.5,164.3 70.5,151.4 71.5,154.7 71.5,194.9 72.5,166.1 73.5,154.6 73.5,155.0 74.5,188.2 74.5,195.0 75.5,181.9 75.5,166.1 76.5,197.0 76.5,164.7 77.5,175.9 78.5,181.1 78.5,156.8 79.5,156.6 79.5,181.6 80.5,134.9 80.5,136.0 81.5,163.3 81.5,122.4 82.5,107.6 83.5,121.0 83.5,144.4 84.5,145.1 84.5,159.5 85.5,195.7 85.5,197.8 86.5,160.7 86.5,189.4 87.5,135.9 88.5,145.6 88.5,141.0 89.5,148.3 89.5,230.2 90.5,167.9 90.5,147.9 91.5,145.3 91.5,167.7 92.5,146.8 93.5,135.2 93.5,147.5 94.5,154.3 94.5,160.9 95.5,132.5 95.5,161.9 96.5,164.6 96.5,167.1 97.5,143.6 98.5,165.2 98.5,196.5 99.5,179.0 99.5,166.6 100.5,177.9 100.5,174.9 101.5,175.2 101.5,224.1 102.5,201.3 103.5,148.9 103.5,151.5 104.5,170.8 104.5,155.9 105.5,163.9 105.5,198.0 106.5,192.9 107.5,163.6 107.5,138.9 108.5,136.5 108.5,129.6 109.5,137.9 109.5,152.9 110.5,131.8 110.5,127.6 111.5,137.8 112.5,162.0 112.5,194.2 113.5,177.7 113.5,129.3 114.5,117.0 114.5,129.7 115.5,146.8 115.5,162.8 116.5,167.9 117.5,153.6 117.5,169.0 118.5,142.3 118.5,157.8 119.5,130.9 119.5,156.8 120.5,173.2 120.5,177.7 121.5,158.1 122.5,153.3 122.5,170.3 123.5,150.0 123.5,137.7 124.5,128.9 124.5,127.1 125.5,119.2 125.5,124.5 126.5,151.2 127.5,162.2 127.5,152.1 128.5,135.1 128.5,137.7 129.5,178.8 129.5,150.9 130.5,126.1 130.5,117.8 131.5,125.8 132.5,134.5 132.5,132.6 133.5,129.7 133.5,153.6 134.5,201.2 134.5,165.8 135.5,208.4 135.5,180.0 136.5,175.9 137.5,153.0 137.5,150.5 138.5,154.2 138.5,203.6 139.5,219.5 139.5,201.1 140.5,197.0 140.5,172.0 141.5,187.1 142.5,184.1 142.5,189.9 143.5,197.7 143.5,177.7 144.5,201.7 144.5,196.4 145.5,243.1 145.5,197.6 146.5,213.2 147.5,184.8 147.5,207.5 148.5,163.2 148.5,157.0 149.5,164.4 149.5,184.1 150.5,201.8 151.5,195.7 151.5,194.6 152.5,197.2 152.5,195.7 153.5,205.0 153.5,235.5 154.5,219.8 154.5,240.2 155.5,201.3 156.5,220.0 156.5,194.6 157.5,237.4 157.5,237.1 158.5,199.3 158.5,187.3 159.5,196.1 159.5,219.9 160.5,229.9 161.5,210.8 161.5,181.0 162.5,231.4 162.5,195.1 163.5,242.6 163.5,214.8 164.5,213.1 164.5,182.3 165.5,163.0 166.5,160.1 166.5,154.5 167.5,163.0 167.5,203.1 168.5,211.8 168.5,229.6 169.5,188.6 169.5,203.1 170.5,218.3 171.5,244.0 171.5,208.6 172.5,220.5 172.5,227.7 172.5,234.3 173.5,210.3 173.5,209.6 174.5,210.8 175.5,211.9 175.5,250.2 176.5,259.6 176.5,246.4 177.5,272.4 177.5,255.6 178.5,251.7 178.5,222.2 179.5,228.2 180.5,267.5 180.5,270.4 181.5,268.0 181.5,276.4 182.5,266.7 182.5,275.7 183.5,271.7 183.5,239.8 184.5,232.7 185.5,236.8 185.5,279.1 186.5,230.8 186.5,225.0 187.5,234.1 187.5,219.7 188.5,233.7 189.5,254.7 189.5,267.9 190.5,227.8 190.5,222.1 191.5,224.8 191.5,229.3 192.5,225.6 192.5,245.8 193.5,233.6 194.5,230.0 194.5,245.7 195.5,241.3 195.5,249.2 196.5,326.0 196.5,263.0 197.5,247.4 197.5,291.6 198.5,241.2 199.5,243.4 199.5,288.8 200.5,251.3 200.5,252.1 201.5,251.4 201.5,244.9 202.5,247.7 202.5,260.6 203.5,252.9 204.5,237.6 204.5,246.2 205.5,279.4 205.5,272.5 206.5,299.1 206.5,257.3 207.5,265.3 207.5,276.6 208.5,244.0 209.5,271.1 209.5,286.4 210.5,270.5 210.5,243.7 211.5,273.4 211.5,260.1 212.5,298.5 212.5,244.9 213.5,250.3 214.5,274.1 214.5,264.1 215.5,299.0 215.5,294.6 216.5,265.6 216.5,257.7 217.5,319.5 217.5,254.9 218.5,249.5 219.5,248.8 219.5,259.0 220.5,304.0 220.5,254.0 221.5,252.3 221.5,262.8 222.5,259.6 222.5,252.1 223.5,280.4 224.5,252.0 224.5,260.0 225.5,262.0 225.5,283.5 226.5,308.6 226.5,281.1 227.5,308.9 227.5,263.0 228.5,255.3 229.5,273.4 229.5,283.7 230.5,253.9 230.5,272.6 231.5,272.9 231.5,264.3 232.5,254.9 233.5,260.4 233.5,292.1 234.5,247.0 234.5,257.9 235.5,260.7 235.5,259.9 236.5,272.7 236.5,261.4 237.5,258.1 238.5,295.9 238.5,274.5 239.5,252.0 239.5,279.6 240.5,287.4 240.5,263.9 241.5,266.8 241.5,268.2 242.5,265.1 243.5,283.1 243.5,262.4 244.5,312.8 244.5,312.9 245.5,285.8 245.5,300.5 246.5,302.3 246.5,295.0 247.5,300.3 248.5,268.9 248.5,259.1 249.5,282.2 249.5,299.2 250.5,274.3 250.5,253.3 251.5,271.0 251.5,253.5 252.5,255.1 253.5,295.3 253.5,255.3 254.5,262.0 254.5,311.4 255.5,314.8 255.5,286.9 256.5,248.0 256.5,262.7 257.5,256.0 258.5,275.0 258.5,263.1 259.5,265.9 259.5,304.0 260.5,291.6 260.5,271.8 261.5,307.5 261.5,279.5 262.5,294.4 263.5,301.6 263.5,270.5 264.5,264.0 264.5,270.6 265.5,300.2 265.5,285.2 266.5,298.0 266.5,267.7 267.5,256.7 268.5,256.6 268.5,257.7 269.5,291.6 269.5,274.2 270.5,264.9 270.5,316.7 271.5,268.9 272.5,279.7 272.5,312.3 273.5,317.0 273.5,310.5 274.5,285.2 274.5,305.5 275.5,264.8 275.5,269.4 276.5,258.2 277.5,255.9 277.5,280.2 278.5,276.2 278.5,296.5 279.5,291.5 279.5,298.5 280.5,337.0 280.5,289.8 281.5,257.0 282.5,259.1 282.5,295.8 283.5,290.1 283.5,297.3 284.5,290.4 284.5,272.2 285.5,266.2 285.5,271.7 286.5,316.8 287.5,255.0 287.5,285.2 288.5,285.9 288.5,319.0 289.5,264.7 289.5,278.0 290.5,293.4 290.5,280.2 291.5,284.5 292.5,326.0 292.5,260.3 293.5,268.8 293.5,291.7 294.5,301.3 294.5,319.4 295.5,292.9 295.5,276.5 296.5,288.5 297.5,289.4 297.5,282.1 298.5,279.7 298.5,272.9 299.5,267.1 299.5,290.7 300.5,319.7 300.5,300.9 301.5,305.3 302.5,256.0 302.5,319.9 303.5,297.1 303.5,276.5 304.5,287.4 304.5,315.3 305.5,292.5 305.5,277.3 306.5,284.0 307.5,288.6 307.5,289.3 308.5,313.3 308.5,264.4 309.5,261.1 309.5,289.4 310.5,280.2 310.5,279.5 311.5,333.0 312.5,308.6 312.5,307.6 313.5,306.8 313.5,279.8 314.5,289.3 314.5,298.8 315.5,279.1 316.5,302.0 316.5,296.5 317.5,284.5 317.5,302.1 318.5,277.1 318.5,277.3 319.5,283.6 319.5,261.4 320.5,258.8 321.5,267.2 321.5,286.3 322.5,321.0 322.5,291.3 323.5,321.1 323.5,269.0 324.5,289.2 324.5,286.9 325.5,295.0 326.5,294.5 326.5,296.9 327.5,308.4 327.5,295.3 328.5,269.6 328.5,267.0 329.5,318.2 329.5,321.5 330.5,305.0 331.5,311.0 331.5,273.7 332.5,283.7 332.5,295.5 333.5,259.0 333.5,293.9 334.5,284.1 334.5,278.7 335.5,270.4 336.5,296.3 336.5,281.0 337.5,321.7 337.5,285.7 338.5,265.0 338.5,270.8 339.5,314.9 339.5,279.2 340.5,259.0 341.5,285.1 341.5,283.0 342.5,291.7 342.5,290.5 343.5,322.1 343.5,316.2 344.5,322.1 344.5,322.1 345.5,273.1 346.5,261.8 346.5,263.1 347.5,269.4 347.5,269.6 348.5,303.8 348.5,311.8 349.5,298.9 349.5,322.1 350.5,306.3 351.5,284.7 351.5,271.3 352.5,253.0 352.5,280.0 353.5,314.5 353.5,302.5 354.5,303.3 354.5,296.4 355.5,275.7 356.5,262.4 356.5,283.5 357.5,285.6 357.5,270.6 358.5,298.5 358.5,294.9 359.5,266.5 360.5,261.8 360.5,274.0 361.5,246.0 361.5,282.8 362.5,277.9 362.5,279.7 363.5,308.8 363.5,285.6 364.5,277.3 365.5,271.9 365.5,291.7 366.5,285.5 366.5,314.9 367.5,301.1 367.5,297.0 368.5,276.3 368.5,286.3 369.5,326.0 370.5,289.0 370.5,277.1 371.5,275.3 371.5,299.7 372.5,311.5 372.5,288.0 373.5,285.6 373.5,291.4 374.5,270.2 375.5,320.0 375.5,296.6 376.5,282.5 376.5,264.9 377.5,281.5 377.5,300.9 378.5,293.2 378.5,322.1 379.5,293.0 380.5,280.3 380.5,313.1 381.5,322.1 381.5,268.8 382.5,262.1 382.5,263.0 383.5,298.1 383.5,272.4 384.5,263.8 385.5,287.2 385.5,290.0 386.5,298.8 386.5,294.1 387.5,320.0 387.5,318.0 388.5,288.3 388.5,270.7 389.5,273.7 390.5,326.0 390.5,280.5 391.5,277.1 391.5,264.3 392.5,295.7 392.5,278.4 393.5,272.5 393.5,264.6 394.5,351.0 395.5,280.6 395.5,262.7 396.5,264.6 396.5,280.8 397.5,284.6 397.5,275.0 398.5,284.4 398.5,272.3 399.5,273.6 400.5,298.7 400.5,293.0 401.5,262.8 401.5,262.2 402.5,277.2 402.5,291.6 403.5,282.4 404.5,261.9 404.5,259.7 405.5,279.7 405.5,275.8 406.5,268.6 406.5,260.9 407.5,270.4 407.5,279.6 408.5,263.4 409.5,282.0 409.5,305.5 410.5,289.0 410.5,277.9 411.5,279.8 411.5,269.0 412.5,266.7 412.5,278.1 413.5,341.0 414.5,263.9 414.5,262.4 415.5,264.4 415.5,271.5 416.5,275.3 416.5,262.0 417.5,261.8 417.5,280.0 418.5,275.1 419.5,304.7 419.5,282.2 420.5,309.7 420.5,301.7 421.5,278.1 421.5,274.9 422.5,278.9 422.5,314.5 423.5,285.4 424.5,278.4 424.5,280.0 425.5,258.0 425.5,263.3 426.5,275.3 426.5,311.8 427.5,288.5 427.5,279.8 428.5,296.9 429.5,244.0 429.5,299.5 430.5,322.8 430.5,303.2 431.5,297.4 431.5,277.1 432.5,283.0 432.5,290.4 433.5,299.6 434.5,315.2 434.5,305.8 435.5,277.7 435.5,262.1 436.5,367.0 436.5,304.9 437.5,322.9 437.5,282.0 438.5,274.8 439.5,289.5 439.5,322.9 440.5,297.6 440.5,288.7 441.5,297.7 441.5,269.7 442.5,275.1 443.5,288.2 443.5,284.2 444.5,284.3 444.5,284.5 445.5,316.9 445.5,307.0 446.5,278.6 446.5,288.6 447.5,256.0 448.5,275.5 448.5,269.3 449.5,272.9 449.5,287.6 450.5,282.5 450.5,300.1 451.5,276.8 451.5,302.8 452.5,283.8 453.5,282.5 453.5,261.0 454.5,262.8 454.5,314.6 455.5,323.0 455.5,293.1 456.5,273.4 456.5,276.3 457.5,284.5 458.5,272.4 458.5,289.9 459.5,311.5 459.5,315.1 460.5,290.5 460.5,322.9 461.5,296.4 461.5,287.4 462.5,285.3 463.5,276.7 463.5,264.0 464.5,274.0 464.5,281.7 465.5,315.0 465.5,272.4 466.5,300.4 466.5,290.0 467.5,291.5 468.5,309.4 468.5,276.0 469.5,262.5 469.5,279.9 470.5,290.4 470.5,285.7 471.5,286.2 471.5,279.0 472.5,300.0 473.5,336.0 473.5,300.1 474.5,322.6 474.5,290.1 475.5,295.2 475.5,273.4 476.5,277.3 476.5,309.9 477.5,301.0 478.5,307.8 478.5,322.5 479.5,287.1 479.5,298.1 480.5,293.2 480.5,312.8 481.5,274.0 481.5,259.4 482.5,263.1 483.5,303.2 483.5,265.9 484.5,280.7 484.5,279.7 485.5,316.5 485.5,275.5 486.5,277.1 487.5,275.7 487.5,274.8 488.5,281.4 488.5,288.2 489.5,280.4 489.5,267.2 490.5,279.6 490.5,290.5 491.5,289.9 492.5,289.8 492.5,278.0 493.5,281.2 493.5,267.9 494.5,303.5 494.5,278.4 495.5,309.6 495.5,285.7 496.5,294.7 497.5,308.6 497.5,291.5 498.5,295.9 498.5,292.4 499.5,283.3 499.5,306.6 500.5,334.0 500.5,290.4 501.5,283.1 502.5,274.6 502.5,310.3 503.5,278.6 503.5,279.8 504.5,286.3 504.5,277.8 505.5,291.0 505.5,309.2 506.5,278.7 507.5,292.0 507.5,301.3 508.5,274.7 508.5,285.5 509.5,286.6 509.5,299.2 510.5,291.8 510.5,293.4 511.5,255.0 512.5,291.9 512.5,275.5 513.5,261.4 513.5,262.5 514.5,265.5 514.5,281.4 515.5,262.5 515.5,266.2 516.5,293.6 517.5,317.2 517.5,298.7 518.5,275.9 518.5,277.5 519.5,279.6 519.5,295.6 520.5,299.1 520.5,301.8 521.5,284.8 522.5,261.8 522.5,270.5 523.5,312.6 523.5,295.2 524.5,263.7 524.5,262.6 525.5,277.9 525.5,292.2 526.5,322.7 527.5,322.7 527.5,284.5 528.5,262.3 528.5,286.7 529.5,250.0 529.5,304.1 530.5,267.4 531.5,268.7 531.5,277.5 532.5,279.7 532.5,272.5 533.5,262.4 533.5,272.0 534.5,288.4 534.5,270.1 535.5,295.9 536.5,271.5 536.5,292.9 537.5,304.3 537.5,293.0 538.5,290.4 538.5,276.7 539.5,262.3 539.5,268.2 540.5,284.4 541.5,293.8 541.5,306.6 542.5,271.8 542.5,263.3 543.5,284.6 543.5,323.0 544.5,285.6 544.5,278.5 545.5,281.3 546.5,290.8 546.5,314.4 547.5,253.0 547.5,295.8 548.5,271.4 548.5,265.1 549.5,304.9 549.5,282.3 550.5,269.4 551.5,271.6 551.5,276.0 552.5,268.5 552.5,267.7 553.5,274.3 553.5,275.7 554.5,280.6 554.5,292.5 555.5,283.4 556.5,269.7 556.5,287.6 557.5,318.4 557.5,299.8 558.5,282.5 558.5,269.0 559.5,266.5 559.5,282.1 560.5,305.3 561.5,276.6 561.5,266.1 562.5,275.1 562.5,311.0 563.5,328.0 563.5,317.3 564.5,297.4 564.5,324.8 565.5,281.3 566.5,294.8 566.5,288.9 567.5,314.9 567.5,297.6 568.5,284.0 568.5,283.9 569.5,328.0 569.5,304.0 570.5,283.3 571.5,293.6 571.5,311.1 572.5,294.5 572.5,285.5 573.5,271.7 573.5,316.1 574.5,279.9 575.5,295.7 575.5,289.1 576.5,305.3 576.5,298.1 577.5,293.1 577.5,300.2 578.5,328.0 578.5,286.2 579.5,286.7 580.5,267.0 580.5,268.3 581.5,277.9 581.5,293.4 582.5,288.7 582.5,276.4 583.5,275.0 583.5,297.5 584.5,320.2 585.5,308.1 585.5,304.8 586.5,326.0 586.5,290.8 587.5,279.7 587.5,288.7" fill="none" stroke="#e00000" stroke-width="1.0" stroke-linejoin="miter"/>
<polyline points="19.5,136.0 19.5,130.0 20.5,128.0 20.5,135.0 21.5,125.0 21.5,131.0 22.5,118.5 22.5,113.7 23.5,95.5 24.5,71.0 24.5,95.5 25.5,137.9 25.5,159.6 26.5,117.1 26.5,109.7 27.5,98.0 27.5,110.6 28.5,138.0 29.5,154.7 29.5,129.5 30.5,117.0 30.5,152.6 31.5,158.2 31.5,155.6 32.5,143.8 32.5,135.9 33.5,141.4 34.5,168.3 34.5,129.6 35.5,133.7 35.5,175.4 36.5,95.8 36.5,69.0 37.5,94.3 37.5,121.1 38.5,109.6 39.5,111.7 39.5,110.0 40.5,114.4 40.5,142.6 41.5,144.6 41.5,202.0 42.5,146.9 42.5,160.6 43.5,114.9 44.5,110.0 44.5,154.0 45.5,165.1 45.5,150.3 46.5,145.3 46.5,239.0 47.5,175.3 47.5,153.4 48.5,170.4 49.5,173.4 49.5,140.1 50.5,131.8 50.5,150.1 51.5,131.4 51.5,130.8 52.5,139.8 52.5,135.3 53.5,136.8 54.5,134.5 54.5,154.0 55.5,224.0 55.5,143.6 56.5,130.2 56.5,175.4 57.5,167.1 57.5,148.0 58.5,129.6 59.5,130.6 59.5,146.2 60.5,137.6 60.5,128.1 61.5,157.9 61.5,110.6 62.5,86.0 63.5,111.0 63.5,182.6 64.5,185.4 64.5,193.0 65.5,168.2 65.5,158.9 66.5,149.4 66.5,168.2 67.5,136.2 68.5,146.7 68.5,203.1 69.5,166.0 69.5,167.4 70.5,165.1 70.5,153.3 71.5,157.5 71.5,195.2 72.5,166.7 73.5,154.2 73.5,155.7 74.5,188.9 74.5,196.1 75.5,182.6 75.5,165.8 76.5,158.6 76.5,164.5 77.5,173.1 78.5,180.4 78.5,159.1 79.5,154.0 79.5,181.0 80.5,136.3 80.5,134.7 81.5,163.3 81.5,123.3 82.5,108.6 83.5,122.5 83.5,144.4 84.5,143.5 84.5,160.0 85.5,195.1 85.5,195.0 86.5,162.6 86.5,189.0 87.5,136.4 88.5,147.2 88.5,142.5 89.5,148.4 89.5,229.5 90.5,168.7 90.5,147.8 91.5,144.2 91.5,167.2 92.5,145.5 93.5,134.5 93.5,146.7 94.5,151.6 94.5,160.0 95.5,132.3 95.5,160.8 96.5,166.0 96.5,167.6 97.5,142.4 98.5,164.3 98.5,194.2 99.5,179.0 99.5,168.8 100.5,175.0 100.5,173.3 101.5,176.8 101.5,222.0 102.5,201.2 103.5,151.6 103.5,152.1 104.5,171.5 104.5,153.6 105.5,165.1 105.5,198.4 106.5,193.3 107.5,164.2 107.5,140.2 108.5,136.2 108.5,128.0 109.5,137.0 109.5,154.3 110.5,133.5 110.5,127.4 111.5,138.8 112.5,162.9 112.5,196.7 113.5,174.7 113.5,127.9 114.5,118.5 114.5,128.3 115.5,144.8 115.5,166.4 116.5,168.7 117.5,154.2 117.5,168.0 118.5,142.5 118.5,158.2 119.5,131.0 119.5,154.0 120.5,170.0 120.5,178.4 121.5,159.5 122.5,149.2 122.5,171.8 123.5,150.9 123.5,137.6 124.5,128.1 124.5,125.5 125.5,118.6 125.5,125.8 126.5,150.4 127.5,161.9 127.5,149.3 128.5,135.1 128.5,139.7 129.5,180.4 129.5,148.7 130.5,126.9 130.5,121.0 131.5,126.6 132.5,134.5 132.5,130.8 133.5,131.2 133.5,152.6 134.5,200.0 134.5,166.9 135.5,208.7 135.5,177.3 136.5,173.3 137.5,151.7 137.5,150.0 138.5,152.5 138.5,203.8 139.5,219.7 139.5,202.4 140.5,197.0 140.5,172.1 141.5,182.9 142.5,184.4 142.5,188.0 143.5,195.7 143.5,178.0 144.5,199.9 144.5,199.6 145.5,243.0 145.5,196.3 146.5,216.8 147.5,186.5 147.5,205.9 148.5,163.6 148.5,158.6 149.5,165.0 149.5,184.9 150.5,200.7 151.5,195.1 151.5,195.1 152.5,198.2 152.5,195.8 153.5,203.0 153.5,235.0 154.5,218.8 154.5,240.4 155.5,203.2 156.5,215.0 156.5,193.7 157.5,237.2 157.5,238.5 158.5,201.7 158.5,187.1 159.5,196.6 159.5,220.4 160.5,230.4 161.5,210.4 161.5,180.5 162.5,230.0 162.5,193.7 163.5,194.3 163.5,213.6 164.5,213.6 164.5,182.4 165.5,162.3 166.5,160.5 166.5,153.7 167.5,161.3 167.5,204.3 168.5,214.4 168.5,227.8 169.5,188.6 169.5,202.1 170.5,220.3 171.5,241.4 171.5,207.5 172.5,220.7 172.5,245.4 172.5,230.9 173.5,239.1 173.5,270.1 174.5,252.0 175.5,246.4 175.5,230.9 176.5,210.7 176.5,208.8 177.5,213.0 177.5,232.3 178.5,228.4 178.5,264.9 179.5,263.4 180.5,275.2 180.5,233.9 181.5,261.4 181.5,233.2 182.5,219.7 182.5,220.9 183.5,228.6 183.5,235.9 184.5,254.3 185.5,241.7 185.5,247.1 186.5,259.0 186.5,279.9 187.5,246.8 187.5,279.4 188.5,252.1 189.5,250.6 189.5,239.1 190.5,280.5 190.5,223.1 191.5,220.9 191.5,244.1 192.5,239.9 192.5,248.5 193.5,246.8 194.5,253.5 194.5,274.6 195.5,234.0 195.5,233.9 196.5,276.7 196.5,272.0 197.5,252.2 197.5,240.7 198.5,242.4 199.5,243.3 199.5,234.9 200.5,244.7 200.5,294.7 201.5,295.1 201.5,250.5 202.5,240.0 202.5,237.4 203.5,242.1 204.5,241.6 204.5,259.2 205.5,276.2 205.5,265.8 206.5,273.9 206.5,299.6 207.5,276.0 207.5,251.1 208.5,257.3 209.5,266.5 209.5,253.6 210.5,265.3 210.5,247.7 211.5,302.8 211.5,248.5 212.5,296.0 212.5,279.8 213.5,252.5 214.5,244.5 214.5,263.2 215.5,284.2 215.5,305.0 216.5,261.0 216.5,249.6 217.5,250.7 217.5,294.8 218.5,257.7 219.5,250.0 219.5,274.2 220.5,263.2 220.5,254.0 221.5,264.4 221.5,255.0 222.5,248.2 222.5,277.8 223.5,307.9 224.5,279.3 224.5,279.7 225.5,271.5 225.5,291.7 226.5,301.4 226.5,261.6 227.5,258.3 227.5,296.9 228.5,267.5 229.5,266.5 229.5,274.3 230.5,283.2 230.5,279.1 231.5,257.6 231.5,255.8 232.5,250.3 233.5,261.2 233.5,275.6 234.5,261.1 234.5,290.9 235.5,310.7 235.5,262.6 236.5,282.3 236.5,251.9 237.5,256.3 238.5,281.8 238.5,272.2 239.5,281.0 239.5,271.0 240.5,253.2 240.5,264.1 241.5,281.4 241.5,284.2 242.5,279.9 243.5,282.9 243.5,268.9 244.5,259.7 244.5,260.5 245.5,258.7 245.5,265.2 246.5,271.0 246.5,288.0 247.5,295.4 248.5,317.0 248.5,276.8 249.5,313.9 249.5,295.1 250.5,268.5 250.5,295.3 251.5,272.5 251.5,294.7 252.5,298.2 253.5,304.8 253.5,260.8 254.5,251.9 254.5,257.7 255.5,314.8 255.5,298.2 256.5,278.1 256.5,260.7 257.5,270.7 258.5,263.8 258.5,272.6 259.5,269.9 259.5,264.8 260.5,263.1 260.5,303.4 261.5,297.6 261.5,267.1 262.5,260.3 263.5,263.7 263.5,260.7 264.5,257.0 264.5,268.3 265.5,280.6 265.5,285.8 266.5,290.0 266.5,278.0 267.5,316.3 268.5,316.4 268.5,279.2 269.5,298.1 269.5,287.2 270.5,315.5 270.5,295.1 271.5,302.7 272.5,287.7 272.5,276.8 273.5,342.0 273.5,265.9 274.5,274.3 274.5,300.8 275.5,302.3 275.5,269.3 276.5,271.1 277.5,317.5 277.5,281.3 278.5,256.0 278.5,271.7 279.5,317.8 279.5,282.3 280.5,275.6 280.5,258.6 281.5,257.1 282.5,257.9 282.5,274.9 283.5,288.4 283.5,269.7 284.5,297.6 284.5,305.1 285.5,318.5 285.5,285.2 286.5,289.0 287.5,312.2 287.5,286.2 288.5,281.5 288.5,285.5 289.5,264.1 289.5,264.1 290.5,284.2 290.5,272.3 291.5,272.2 292.5,252.0 292.5,308.1 293.5,280.0 293.5,260.2 294.5,258.7 294.5,281.9 295.5,282.2 295.5,260.7 296.5,268.0 297.5,279.0 297.5,272.7 298.5,287.2 298.5,297.7 299.5,296.3 299.5,299.5 300.5,281.3 300.5,277.7 301.5,282.9 302.5,290.4 302.5,272.0 303.5,279.1 303.5,290.1 304.5,318.0 304.5,294.6 305.5,295.3 305.5,301.5 306.5,286.3 307.5,261.0 307.5,305.0 308.5,298.2 308.5,307.0 309.5,280.5 309.5,269.4 310.5,263.4 310.5,279.9 311.5,299.3 312.5,285.3 312.5,284.3 313.5,319.3 313.5,283.8 314.5,306.2 314.5,281.8 315.5,297.7 316.5,298.8 316.5,259.3 317.5,258.5 317.5,264.0 318.5,266.1 318.5,278.5 319.5,261.0 319.5,258.7 320.5,259.1 321.5,303.6 321.5,272.5 322.5,278.9 322.5,300.8 323.5,328.0 323.5,261.3 324.5,278.7 324.5,290.8 325.5,321.2 326.5,283.6 326.5,282.3 327.5,276.4 327.5,285.0 328.5,276.0 328.5,287.2 329.5,295.7 329.5,283.3 330.5,289.4 331.5,275.6 331.5,311.9 332.5,308.4 332.5,298.8 333.5,287.1 333.5,271.9 334.5,285.1 334.5,282.9 335.5,266.1 336.5,266.3 336.5,308.8 337.5,283.9 337.5,300.7 338.5,309.6 338.5,284.3 339.5,278.4 339.5,290.4 340.5,258.0 341.5,260.3 341.5,281.3 342.5,342.0 342.5,283.7 343.5,284.7 343.5,313.2 344.5,292.1 344.5,288.8 345.5,261.6 346.5,259.7 346.5,264.8 347.5,261.5 347.5,273.9 348.5,312.7 348.5,320.0 349.5,317.7 349.5,291.4 350.5,275.5 351.5,261.0 351.5,263.3 352.5,270.3 352.5,284.2 353.5,261.0 353.5,277.2 354.5,271.8 354.5,279.5 355.5,278.7 356.5,276.2 356.5,296.2 357.5,287.7 357.5,322.1 358.5,322.1 358.5,309.0 359.5,294.7 360.5,322.1 360.5,275.4 361.5,279.8 361.5,322.1 362.5,322.1 362.5,286.9 363.5,279.8 363.5,287.8 364.5,261.8 365.5,268.9 365.5,310.1 366.5,293.1 366.5,291.3 367.5,318.5 367.5,281.6 368.5,263.2 368.5,301.0 369.5,296.1 370.5,311.4 370.5,308.9 371.5,280.2 371.5,283.2 372.5,273.5 372.5,274.9 373.5,303.0 373.5,288.5 374.5,303.0 375.5,292.4 375.5,274.7 376.5,279.6 376.5,299.1 377.5,272.2 377.5,272.5 378.5,301.1 378.5,322.1 379.5,299.8 380.5,289.4 380.5,322.1 381.5,315.1 381.5,281.7 382.5,266.7 382.5,261.1 383.5,282.8 383.5,322.1 384.5,298.9 385.5,285.8 385.5,281.7 386.5,315.5 386.5,290.0 387.5,279.1 387.5,267.8 388.5,283.8 388.5,262.6 389.5,260.6 390.5,272.0 390.5,292.8 391.5,290.1 391.5,296.5 392.5,322.2 392.5,284.8 393.5,292.8 393.5,276.9 394.5,261.0 395.5,273.0 395.5,278.0 396.5,322.2 396.5,293.5 397.5,315.2 397.5,310.0 398.5,290.9 398.5,270.7 399.5,263.6 400.5,256.0 400.5,276.1 401.5,315.2 401.5,300.3 402.5,292.4 402.5,322.3 403.5,284.9 404.5,274.9 404.5,301.1 405.5,278.4 405.5,269.5 406.5,274.0 406.5,272.0 407.5,268.2 407.5,265.2 408.5,264.8 409.5,265.8 409.5,263.2 410.5,300.4 410.5,264.7 411.5,254.0 411.5,262.8 412.5,284.7 412.5,288.4 413.5,294.8 414.5,272.0 414.5,264.5 415.5,310.1 415.5,289.9 416.5,299.2 416.5,288.4 417.5,322.6 417.5,272.5 418.5,272.9 419.5,282.5 419.5,267.6 420.5,267.2 420.5,271.9 421.5,289.5 421.5,300.6 422.5,291.2 422.5,315.3 423.5,299.9 424.5,295.5 424.5,266.5 425.5,262.0 425.5,282.7 426.5,279.2 426.5,269.7 427.5,281.3 427.5,263.2 428.5,334.0 429.5,286.0 429.5,278.4 430.5,278.1 430.5,262.8 431.5,288.3 431.5,278.9 432.5,274.5 432.5,298.8 433.5,276.3 434.5,263.6 434.5,282.2 435.5,301.6 435.5,301.8 436.5,312.5 436.5,270.5 437.5,264.0 437.5,293.7 438.5,279.0 439.5,265.6 439.5,267.7 440.5,313.5 440.5,262.7 441.5,253.0 441.5,285.4 442.5,277.2 443.5,267.2 443.5,272.7 444.5,283.2 444.5,289.2 445.5,309.7 445.5,279.7 446.5,317.0 446.5,297.5 447.5,282.9 448.5,279.2 448.5,282.3 449.5,316.3 449.5,301.1 450.5,296.3 450.5,307.4 451.5,323.1 451.5,278.6 452.5,299.9 453.5,316.7 453.5,276.1 454.5,288.2 454.5,301.4 455.5,293.3 455.5,288.4 456.5,293.3 456.5,296.6 457.5,281.7 458.5,281.3 458.5,276.5 459.5,267.2 459.5,266.3 460.5,280.8 460.5,277.4 461.5,279.9 461.5,294.3 462.5,256.0 463.5,312.1 463.5,291.3 464.5,280.1 464.5,296.8 465.5,286.2 465.5,284.0 466.5,281.7 466.5,322.8 467.5,336.0 468.5,282.6 468.5,272.0 469.5,264.0 469.5,287.2 470.5,302.9 470.5,287.7 471.5,264.8 471.5,267.8 472.5,276.6 473.5,309.2 473.5,290.4 474.5,286.9 474.5,274.7 475.5,271.1 475.5,322.6 476.5,273.3 476.5,286.3 477.5,296.6 478.5,254.0 478.5,266.8 479.5,308.9 479.5,272.6 480.5,304.0 480.5,275.7 481.5,289.9 481.5,307.4 482.5,315.2 483.5,307.7 483.5,279.8 484.5,271.7 484.5,264.4 485.5,269.3 485.5,295.0 486.5,314.0 487.5,307.0 487.5,302.2 488.5,297.5 488.5,291.8 489.5,279.9 489.5,274.7 490.5,275.5 490.5,273.1 491.5,287.7 492.5,258.0 492.5,290.5 493.5,287.2 493.5,264.4 494.5,264.0 494.5,278.5 495.5,295.6 495.5,263.2 496.5,293.4 497.5,279.6 497.5,269.9 498.5,261.8 498.5,260.7 499.5,263.5 499.5,270.3 500.5,268.6 500.5,283.0 501.5,262.1 502.5,275.7 502.5,266.1 503.5,269.5 503.5,277.7 504.5,322.2 504.5,262.3 505.5,287.1 505.5,271.6 506.5,265.5 507.5,281.8 507.5,302.1 508.5,263.3 508.5,270.5 509.5,277.1 509.5,262.4 510.5,262.0 510.5,267.1 511.5,270.5 512.5,281.9 512.5,262.8 513.5,260.8 513.5,265.2 514.5,322.4 514.5,273.6 515.5,285.6 515.5,271.3 516.5,254.0 517.5,334.0 517.5,284.6 518.5,291.5 518.5,292.9 519.5,266.7 519.5,262.6 520.5,276.2 520.5,299.8 521.5,302.2 522.5,272.1 522.5,266.6 523.5,262.8 523.5,273.8 524.5,319.4 524.5,316.0 525.5,299.6 525.5,300.7 526.5,301.9 527.5,285.5 527.5,303.4 528.5,310.9 528.5,313.2 529.5,284.9 529.5,266.8 530.5,274.3 531.5,280.3 531.5,263.9 532.5,247.0 532.5,281.2 533.5,300.2 533.5,303.7 534.5,267.8 534.5,283.2 535.5,286.4 536.5,310.6 536.5,282.7 537.5,276.3 537.5,268.2 538.5,272.8 538.5,266.4 539.5,263.9 539.5,263.6 540.5,289.5 541.5,252.0 541.5,276.3 542.5,287.1 542.5,272.6 543.5,269.9 543.5,269.2 544.5,270.4 544.5,285.1 545.5,323.0 546.5,285.6 546.5,273.7 547.5,274.5 547.5,273.0 548.5,298.7 548.5,273.4 549.5,272.3 549.5,264.4 550.5,263.9 551.5,310.7 551.5,276.0 552.5,252.0 552.5,270.0 553.5,295.0 553.5,283.7 554.5,277.8 554.5,287.2 555.5,261.9 556.5,353.0 556.5,274.4 557.5,284.5 557.5,296.2 558.5,310.0 558.5,313.9 559.5,307.6 559.5,276.7 560.5,277.4 561.5,273.4 561.5,301.6 562.5,280.8 562.5,267.0 563.5,274.7 563.5,281.4 564.5,281.9 564.5,293.4 565.5,262.0 566.5,297.0 566.5,312.8 567.5,314.5 567.5,300.0 568.5,299.9 568.5,270.7 569.5,292.5 569.5,292.0 570.5,268.2 571.5,271.5 571.5,272.9 572.5,273.3 572.5,283.9 573.5,272.0 573.5,271.3 574.5,277.9 575.5,280.2 575.5,293.9 576.5,306.4 576.5,284.7 577.5,268.2 577.5,279.3 578.5,307.4 578.5,297.8 579.5,300.1 580.5,285.4 580.5,301.3 581.5,272.7 581.5,294.9 582.5,289.0 582.5,299.1 583.5,293.9 583.5,276.4 584.5,276.8 585.5,291.1 585.5,298.8 586.5,328.0 586.5,289.2 587.5,295.2 587.5,328.1" fill="none" stroke="#0000c8" stroke-width="1.0" stroke-linejoin="miter"/>
<g shape-rendering="crispEdges">
<rect x="640" y="41" width="4" height="409" fill="#c4c4c4"/>
<rect x="634" y="446" width="10" height="4" fill="#c4c4c4"/>
<rect x="630.5" y="37.5" width="9" height="408" fill="#ff8080" stroke="#400000" stroke-width="1"/>
<rect x="656" y="42" width="4" height="408" fill="#c4c4c4"/>
<rect x="650" y="446" width="10" height="4" fill="#c4c4c4"/>
<rect x="646.5" y="38.5" width="9" height="407" fill="#8080ff" stroke="#000040" stroke-width="1"/>
</g>
<g font-family="Liberation Sans, Arial, sans-serif" font-size="11" fill="#000"><text x="19.0" y="16" text-anchor="middle">0</text><text x="19.0" y="457" text-anchor="middle">0</text><text x="70.7" y="16" text-anchor="middle">2</text><text x="70.7" y="457" text-anchor="middle">2</text><text x="121.7" y="16" text-anchor="middle">4</text><text x="121.7" y="457" text-anchor="middle">4</text><text x="173.7" y="16" text-anchor="middle">6</text><text x="173.7" y="457" text-anchor="middle">6</text><text x="225.7" y="16" text-anchor="middle">8</text><text x="225.7" y="457" text-anchor="middle">8</text><text x="277.3" y="16" text-anchor="middle">10</text><text x="277.3" y="457" text-anchor="middle">10</text><text x="328.7" y="16" text-anchor="middle">12</text><text x="328.7" y="457" text-anchor="middle">12</text><text x="380.7" y="16" text-anchor="middle">14</text><text x="380.7" y="457" text-anchor="middle">14</text><text x="432.7" y="16" text-anchor="middle">16</text><text x="432.7" y="457" text-anchor="middle">16</text><text x="483.7" y="16" text-anchor="middle">18</text><text x="483.7" y="457" text-anchor="middle">18</text><text x="535.5" y="16" text-anchor="middle">20</text><text x="535.5" y="457" text-anchor="middle">20</text><text x="587.5" y="16" text-anchor="middle">22</text><text x="587.5" y="457" text-anchor="middle">22</text><text x="591.3" y="24">0</text><text x="591.3" y="85">-20</text><text x="591.3" y="146">-40</text><text x="591.3" y="207">-60</text><text x="591.3" y="267">-80</text><text x="591.3" y="328">-100</text><text x="591.3" y="389">-120</text><text x="591.3" y="450">-140</text><text x="604" y="255">[dB]</text><text x="322.5" y="472">[kHz]</text><text x="10" y="478">created by Hub Audio Tools</text></g>
</svg>
</body></html>
